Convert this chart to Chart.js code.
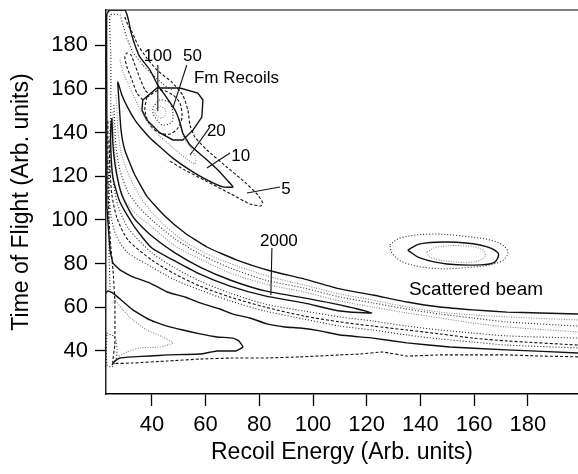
<!DOCTYPE html>
<html>
<head>
<meta charset="utf-8">
<script src="https://cdn.jsdelivr.net/npm/chart.js@4.4.1/dist/chart.umd.min.js"></script>
<style>
html,body{margin:0;padding:0;background:#fff;}
#wrap{width:578px;height:474px;}
</style>
</head>
<body>
<div id="wrap"><canvas id="c" width="578" height="474"></canvas></div>
<script>
// ---- axis ticks ----
const xTicks = [40, 60, 80, 100, 120, 140, 160, 180];
const yTicks = [40, 60, 80, 100, 120, 140, 160, 180];

// ---- contour lines (Recoil Energy, Time of Flight) ----
// level 10 contour: left edge, finger, Fm streak, upper edge of main band
const c10X = [23.2,23.2,23.2,24.4,29.9,31.1,32.2,33.7,35.5,39.3,42.2,45.6,48.6,50.4,51.5,54.2,59.7,64.6,68.3,70.2,66.4,60.5,54.2,47.8,43.0,39.3,36.3,33.7,31.1,28.8,27.3,27.7,28.5,29.9,33.3,38.1,44.8,52.3,60.5,71.7,84.3,96.6,110.0,122.3,135.0,147.3,159.6,172.2,184.5,198.7];
const c10Y = [106.8,154.9,194.2,196.1,196.1,192.4,186.0,180.0,174.6,168.6,161.7,155.8,150.3,144.8,139.8,134.3,128.3,122.8,117.8,115.1,115.1,118.3,122.8,128.3,133.4,137.5,141.6,145.7,151.2,157.2,163.1,154.9,141.1,132.0,121.5,110.9,101.8,94.0,87.6,81.6,76.6,73.0,68.4,65.6,62.4,60.1,58.8,57.8,57.4,56.9];
// lower (bumpy) solid edge of main band
const bandLowX = [23.2,24.4,25.5,28.1,32.9,39.3,45.6,52.3,57.9,65.3,70.2,76.5,82.8,89.5,95.1,102.6,110.0,122.3,135.0,151.0,172.2,198.7];
const bandLowY = [106.8,86.2,80.3,77.1,73.9,71.1,67.0,64.7,62.0,59.2,56.9,55.1,52.4,51.0,50.5,49.2,47.3,45.9,43.7,41.8,40.5,39.1];
// level 2000 contour (closed)
const c2000X = [25.1,25.5,26.6,28.8,33.3,40.0,48.6,57.9,69.1,82.1,96.6,110.0,121.9,110.0,96.6,82.1,69.1,57.9,48.6,40.0,33.3,28.1,25.5,24.7,24.7,25.1];
const c2000Y = [146.6,134.3,122.8,111.4,100.8,92.6,84.9,78.4,72.5,67.5,64.3,61.1,57.4,58.3,62.0,65.2,69.7,75.2,81.2,87.1,97.2,108.2,119.2,132.0,143.4,146.6];
// inner band lines
const band2X = [26.6,27.0,27.3,28.5,31.4,35.9,42.6,50.4,59.7,71.7,84.3,96.6,110.0,122.3,135.0,147.3,159.6,172.2,198.7];
const band2Y = [157.2,150.3,141.1,131.1,120.5,110.0,100.0,91.7,84.9,78.9,73.9,70.2,66.1,63.3,60.1,57.8,56.5,55.6,54.2];
const band3X = [25.8,26.2,26.6,28.1,31.1,35.5,40.0,48.6,57.9,69.1,82.1,96.6,110.0,122.3,135.0,147.3,159.6,172.2,198.7];
const band3Y = [152.6,143.4,134.3,122.8,112.8,105.4,100.0,91.3,84.4,78.0,72.5,68.8,64.7,62.0,59.2,56.9,55.1,53.3,51.4];
const band4X = [25.5,25.8,26.2,27.3,29.9,34.4,40.0,48.6,57.9,69.1,82.1,96.6,110.0,122.3,135.0,147.3,159.6,172.2,198.7];
const band4Y = [149.4,138.9,129.7,119.2,109.1,102.2,96.8,88.1,82.1,75.7,70.7,67.0,62.9,60.1,57.4,55.1,52.8,51.0,48.7];
const band6X = [24.4,24.7,25.5,27.3,31.1,40.0,48.6,57.9,69.1,82.1,96.6,110.0,122.3,135.0,147.3,159.6,172.2,198.7];
const band6Y = [141.1,129.7,118.3,106.8,96.3,84.9,78.0,72.0,66.5,61.5,58.3,55.6,53.7,51.4,49.6,48.2,46.9,45.9];
const band7X = [24.0,24.4,25.1,27.0,31.1,40.0,48.6,57.9,69.1,82.1,96.6,110.0,122.3,135.0,147.3,159.6,172.2,198.7];
const band7Y = [136.6,122.8,111.4,100.8,90.8,81.6,75.2,69.7,64.7,60.1,56.0,53.3,51.4,49.6,47.8,45.9,44.6,42.7];
const band8X = [23.6,24.0,24.7,26.6,30.7,40.0,48.6,57.9,69.1,82.1,96.6,110.0,122.3,135.0,147.3,159.6,172.2,198.7];
const band8Y = [127.4,113.7,102.2,93.1,85.3,78.4,72.5,67.9,62.9,58.3,54.6,51.4,49.6,47.3,45.5,44.1,42.7,41.4];
// level 5 contour around the Fm streak
const c5X = [29.9,31.1,32.6,34.8,38.1,41.9,47.4,51.5,53.4,54.2,56.0,60.5,67.9,74.6,79.5,81.3,80.6,76.5,69.4,59.4,52.3,46.0];
const c5Y = [192.9,189.2,186.0,180.0,174.1,168.6,163.1,157.2,150.3,143.4,137.9,132.0,124.2,117.3,111.4,107.7,106.4,107.3,111.9,118.3,122.8,127.4];
// level 20 contour
const c20X = [28.1,29.2,31.8,34.8,37.4,40.7,44.5,49.3,53.0,56.0,56.4,54.5,51.9,50.8,49.7];
const c20Y = [173.2,167.7,160.4,152.6,146.6,141.1,136.6,131.5,127.9,125.6,128.3,132.9,137.5,142.1,146.6];
// Fm recoil gate and its inner contours
const gateX = [36.6,41.9,50.4,57.1,59.0,58.6,55.3,51.5,47.8,43.0,38.1,36.3,36.6];
const gateY = [154.9,160.4,160.4,158.1,154.9,147.1,141.1,136.6,136.6,139.8,145.7,150.3,154.9];
const c50X = [38.1,43.0,47.8,50.4,51.2,49.7,46.7,43.0,39.3,37.4,38.1];
const c50Y = [156.2,159.5,157.2,153.5,147.1,142.1,139.3,139.8,143.4,150.3,156.2];
const c100X = [40.4,43.0,46.7,47.8,47.4,44.1,41.9,40.4,40.4];
const c100Y = [151.7,154.9,153.5,148.9,144.8,143.4,145.7,148.9,151.7];
const c200X = [43.0,44.8,45.2,43.7,41.9,41.1,43.0];
const c200Y = [152.1,150.8,148.5,146.6,147.6,149.9,152.1];
// finger inner lines
const fingerDashX = [36.6,34.4,32.6,30.7,29.9,30.7,32.2,33.7,35.5,37.4,39.3];
const fingerDashY = [154.9,158.1,164.0,170.0,174.6,176.4,175.5,170.9,164.9,159.5,157.2];
const fingerDotX = [24.4,24.0,24.0,24.4,24.7,24.7,24.4,28.1,29.2,30.7,32.9,36.6,40.4,44.1,47.4];
const fingerDotY = [67.9,86.2,109.1,132.0,152.6,175.5,193.8,193.8,189.2,183.3,176.8,170.9,166.3,162.2,159.5];
// outer dashed contour: bottom and left edge
const outerX = [198.7,184.5,172.2,159.6,147.3,135.0,126.0,117.5,110.0,95.1,82.8,70.2,57.9,45.6,32.9,25.5,26.2,26.2,25.5,24.7,24.0,23.6,23.6];
const outerY = [37.3,37.7,38.2,38.2,38.2,37.7,39.5,38.6,38.2,37.3,36.8,36.8,36.3,35.4,34.5,34.5,42.7,63.3,77.1,87.6,100.0,118.3,145.7];
// low-energy spike
const spikeX = [22.9,23.6,25.5,28.1,32.9,39.3,45.6,51.5,57.9,64.2,70.2,72.4,73.9,71.3,64.2,57.9,45.6,39.3,32.9,28.1,26.2,25.1];
const spikeY = [66.5,67.5,66.5,63.8,58.8,54.2,51.4,49.6,47.8,46.4,45.9,44.6,41.8,40.0,40.0,38.6,38.2,37.7,37.3,36.8,35.4,33.6];
const spikeInX = [25.1,26.2,29.2,32.9,38.1,44.1,47.8,43.0,35.5,30.7,27.3];
const spikeInY = [62.0,63.3,58.8,54.2,49.6,46.4,43.7,41.8,41.4,39.5,37.3];
const knotX = [23.2,26.2,27.0,26.6,25.1,23.2,23.2];
const knotY = [48.2,46.4,40.5,35.9,32.7,33.6,48.2];
// scattered beam
const beamOutX = [128.6,132.4,143.5,155.8,168.5,172.6,169.6,155.8,143.5,133.5,129.4,128.6];
const beamOutY = [88.5,91.7,93.5,92.6,89.9,85.3,80.7,78.0,78.0,80.7,84.9,88.5];
const beamMidX = [135.3,139.8,149.9,162.2,168.9,167.7,162.2,149.9,139.8,135.3];
const beamMidY = [86.2,89.0,89.9,88.5,84.9,80.7,79.4,79.8,82.6,86.2];
const beamInX = [142.4,146.1,157.3,163.3,164.0,159.6,149.9,143.5,142.4];
const beamInY = [85.3,87.6,88.1,86.2,83.0,80.7,81.2,83.0,85.3];

// ---- annotations ----
const labelText = ['100', '50', 'Fm Recoils', '20', '10', '5', '2000', 'Scattered beam'];
const labelX = [42.2, 55.1, 71.5, 64.0, 73.1, 89.9, 87.3, 160.7];
const labelY = [175.0, 175.0, 164.7, 140.7, 129.2, 114.1, 90.3, 67.9];
const leaderX = [[42.2, 42.2], [53.0, 47.8], [61.6, 54.2], [69.1, 60.5], [87.7, 75.4], [84.7, 84.3]];
const leaderY = [[170.9, 149.8], [170.9, 151.2], [142.5, 129.7], [130.6, 123.8], [115.1, 112.3], [87.1, 65.6]];

// ---- styles ----
const ST = {
  solid: {borderColor: '#111', borderWidth: 1.4, borderDash: []},
  dash: {borderColor: '#111', borderWidth: 1.1, borderDash: [3, 2]},
  dot: {borderColor: '#222', borderWidth: 1.1, borderDash: [1, 2]},
  gray: {borderColor: '#8a8a8a', borderWidth: 1.1, borderDash: [1, 1.5]},
  lead: {borderColor: '#111', borderWidth: 1.1, borderDash: []}
};
function ds(xs, ys, style, tension) {
  return Object.assign({
    data: xs.map((v, i) => ({x: v, y: ys[i]})),
    showLine: true, pointRadius: 0, pointHoverRadius: 0, fill: false,
    tension: tension
  }, ST[style]);
}
const datasets = [
  ds(c10X, c10Y, 'solid', 0.15),
  ds(bandLowX, bandLowY, 'solid', 0.1),
  ds(c2000X, c2000Y, 'solid', 0.2),
  ds(band2X, band2Y, 'gray', 0.25),
  ds(band3X, band3Y, 'dot', 0.25),
  ds(band4X, band4Y, 'gray', 0.25),
  ds(band6X, band6Y, 'dot', 0.25),
  ds(band7X, band7Y, 'dash', 0.25),
  ds(band8X, band8Y, 'dot', 0.25),
  ds(c5X, c5Y, 'dash', 0.15),
  ds(c20X, c20Y, 'gray', 0.15),
  ds(gateX, gateY, 'solid', 0),
  ds(c50X, c50Y, 'dash', 0.3),
  ds(c100X, c100Y, 'dot', 0.3),
  ds(c200X, c200Y, 'gray', 0.3),
  ds(fingerDashX, fingerDashY, 'dash', 0.2),
  ds(fingerDotX, fingerDotY, 'dot', 0.15),
  ds(outerX, outerY, 'dash', 0.1),
  ds(spikeX, spikeY, 'solid', 0.1),
  ds(spikeInX, spikeInY, 'gray', 0.15),
  ds(knotX, knotY, 'dot', 0.2),
  ds(beamOutX, beamOutY, 'dot', 0.35),
  ds(beamMidX, beamMidY, 'solid', 0.35),
  ds(beamInX, beamInY, 'gray', 0.35)
];
leaderX.forEach((lx, i) => datasets.push(ds(lx, leaderY[i], 'lead', 0)));

const FONT = '"Liberation Sans", Arial, Helvetica, sans-serif';
const labelPlugin = {
  id: 'contourLabels',
  afterDatasetsDraw(chart) {
    const {ctx, scales} = chart;
    ctx.save();
    ctx.fillStyle = '#000';
    ctx.textAlign = 'center';
    ctx.textBaseline = 'middle';
    labelText.forEach((t, i) => {
      const size = t === 'Scattered beam' ? 19 : 17;
      ctx.font = size + 'px ' + FONT;
      ctx.fillText(t, scales.x.getPixelForValue(labelX[i]), scales.y.getPixelForValue(labelY[i]));
    });
    ctx.restore();
  }
};
function noPad(s) { s.paddingTop = 0; s.paddingBottom = 0; s.paddingLeft = 0; s.paddingRight = 0; }

Chart.defaults.font.family = FONT;
new Chart(document.getElementById('c'), {
  type: 'scatter',
  data: {datasets},
  plugins: [labelPlugin],
  options: {
    responsive: false,
    animation: false,
    devicePixelRatio: 1,
    layout: {padding: {top: 10, right: 0, left: 0, bottom: 0}},
    plugins: {legend: {display: false}, tooltip: {enabled: false}},
    scales: {
      x: {
        type: 'linear', position: 'bottom', min: 22.9, max: 198.7,
        afterBuildTicks: s => { s.ticks = xTicks.map(v => ({value: v})); },
        afterFit: s => { s.height = 80; noPad(s); },
        border: {display: true, color: '#000', width: 1.5},
        grid: {drawOnChartArea: false, drawTicks: true, tickLength: 12, tickColor: '#000', tickWidth: 1.3},
        ticks: {color: '#000', font: {size: 22}, padding: 6, maxRotation: 0, autoSkip: false},
        title: {display: true, text: 'Recoil Energy (Arb. units)', color: '#000', font: {size: 23}, padding: {top: 0, bottom: 8}}
      },
      xTop: {
        type: 'linear', position: 'top', min: 22.9, max: 198.7,
        afterFit: s => { s.height = 0; noPad(s); },
        border: {display: true, color: '#808080', width: 2},
        grid: {drawOnChartArea: false, drawTicks: false},
        ticks: {display: false}
      },
      y: {
        type: 'linear', position: 'left', min: 20.3, max: 196.1,
        afterBuildTicks: s => { s.ticks = yTicks.map(v => ({value: v})); },
        afterFit: s => { s.width = 106; noPad(s); },
        border: {display: true, color: '#222', width: 1.5},
        grid: {drawOnChartArea: false, drawTicks: true, tickLength: 11, tickColor: '#000', tickWidth: 1.3},
        ticks: {color: '#000', font: {size: 22}, padding: 7, autoSkip: false},
        title: {display: true, text: 'Time of Flight (Arb. units)', color: '#000', font: {size: 23}, padding: {top: 8, bottom: 0}}
      }
    }
  }
});
</script>
</body>
</html>
